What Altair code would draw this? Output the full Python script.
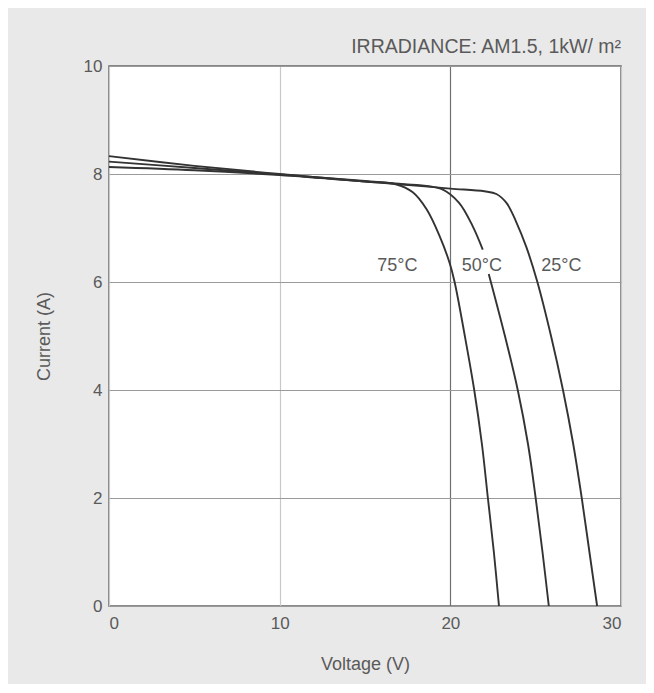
import altair as alt
import pandas as pd

# ---- data ----
v25 = [0, 5, 10, 15, 17, 20, 22, 22.7, 23.3, 23.85, 24.45, 25.1, 25.9, 26.6, 27.2, 27.7, 28.15, 28.6]
i25 = [8.13, 8.07, 7.98, 7.86, 7.81, 7.73, 7.68, 7.63, 7.46, 7.12, 6.65, 6.0, 5.0, 4.0, 3.0, 2.0, 1.0, 0]

v50a = [0, 5, 10, 15, 17, 19.5, 20.5, 21.3, 21.9]
i50a = [8.23, 8.11, 7.99, 7.87, 7.82, 7.72, 7.47, 7.04, 6.6]
v50b = [22.25, 23.2, 23.95, 24.55, 25.0, 25.4, 25.77]
i50b = [6.15, 5.0, 4.0, 3.0, 2.0, 1.0, 0]

v75 = [0, 5, 10, 15, 16.8, 17.8, 18.6, 19.36, 19.95, 20.25, 20.85, 21.4, 21.85, 22.2, 22.55, 22.85]
i75 = [8.33, 8.15, 8.0, 7.86, 7.81, 7.66, 7.35, 6.86, 6.36, 6.0, 5.0, 4.0, 3.0, 2.0, 1.0, 0]

label_text = ["75°C", "50°C", "25°C"]
label_v = [16.9, 21.85, 26.5]
label_i = [6.3, 6.3, 6.3]

x_ticks = [0, 10, 20, 30]
y_ticks = [0, 2, 4, 6, 8, 10]

rows = []
for seg, vs, cs in [("25", v25, i25), ("50a", v50a, i50a), ("50b", v50b, i50b), ("75", v75, i75)]:
    for k, (v, c) in enumerate(zip(vs, cs)):
        rows.append({"seg": seg, "V": v, "I": c, "order": k})
curves = pd.DataFrame(rows)
labels = pd.DataFrame({"t": label_text, "V": label_v, "I": label_i})

FONT = "Liberation Sans"
TXT = "#5a5a5a"

x_enc = alt.X("V:Q", scale=alt.Scale(domain=[0, 30], nice=False),
              axis=alt.Axis(values=x_ticks, title="Voltage (V)", ticks=False, domain=False,
                            labelPadding=9, titlePadding=24,
                            gridColor=alt.condition("datum.value == 20", alt.value("#707070"), alt.value("#c8c8c8")),
                            gridWidth=1.2))
y_enc = alt.Y("I:Q", scale=alt.Scale(domain=[0, 10], nice=False),
              axis=alt.Axis(values=y_ticks, title="Current  (A)", ticks=False, domain=False,
                            labelPadding=7, titlePadding=30, gridColor="#9a9a9a", gridWidth=1.2))

lines = alt.Chart(curves).mark_line(color="#333333", strokeWidth=1.9, interpolate="catmull-rom").encode(
    x=x_enc, y=y_enc, detail="seg:N", order="order:Q")

text = alt.Chart(labels).mark_text(font=FONT, fontSize=18, color=TXT, align="center", baseline="middle").encode(
    x="V:Q", y="I:Q", text="t:N")

chart = alt.layer(lines, text).properties(
    width=512, height=540,
    padding={"left": 101, "top": 58, "right": 25, "bottom": 78},
    autosize=alt.AutoSizeParams(type="none"),
    background="#e9e9e9",
    title=alt.Title("IRRADIANCE: AM1.5, 1kW/ m²", anchor="end", font=FONT, fontSize=19.5,
                    fontWeight="normal", color=TXT, offset=0),
).configure_view(
    fill="white", stroke="#666666", strokeWidth=1.5
).configure_axis(
    labelFont=FONT, titleFont=FONT, labelFontSize=17, titleFontSize=18,
    labelColor=TXT, titleColor=TXT, titleFontWeight="normal"
)

chart.save("out.html", embed_options={"renderer": "svg", "actions": False})
